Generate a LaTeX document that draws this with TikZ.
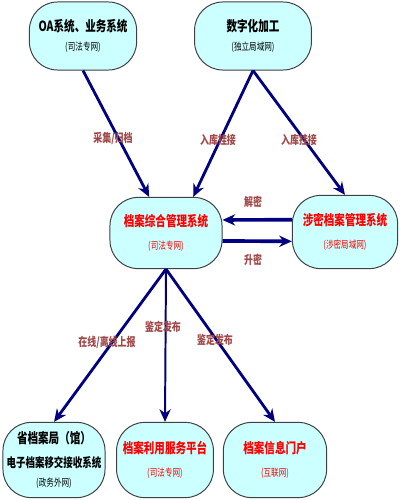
\documentclass[tikz,border=0pt]{standalone}
\usepackage{fontspec}
\usetikzlibrary{arrows.meta}
\newfontfamily\cjk[FakeStretch=0.75]{Noto Sans CJK SC}
\definecolor{boxfill}{HTML}{CCFFFF}
\definecolor{boxline}{HTML}{404040}
\definecolor{flowblue}{HTML}{000080}
\definecolor{lblred}{HTML}{A04848}
\newcommand\netname[1]{{\fontsize{7.2}{9}\selectfont\mdseries(#1)}}

\begin{document}
\begin{tikzpicture}[x=0.025cm, y=-0.025cm,
  every node/.style={font=\cjk},
  box/.style={draw=boxline, line width=0.7pt, fill=boxfill, rounded corners=20pt,
    inner sep=0pt, align=center, minimum width=2.7cm, minimum height=1.75cm,
    font=\cjk\fontsize{10}{13}\selectfont\bfseries},
  hot/.style={box, text=red},
  flow/.style={draw=flowblue, line width=2pt, -{Stealth[length=9pt,width=8pt]}},
  lbl/.style={text=lblred, font=\cjk\fontsize{8.5}{10}\selectfont\bfseries}]
  \useasboundingbox (0,0) rectangle (400,500);

  % top row
  \node[box, minimum width=2.68cm, minimum height=1.7cm] (oa) at (83,36)
    {OA系统、业务系统\\\netname{司法专网}};
  \node[box, minimum width=2.92cm, minimum height=1.7cm] (digit) at (253,36)
    {数字化加工\\\netname{独立局域网}};

  % middle row
  \node[hot, minimum width=2.8cm, minimum height=1.78cm] (core) at (166,233)
    {档案综合管理系统\\[3pt]\netname{司法专网}};
  \node[hot, minimum width=2.63cm, minimum height=1.83cm] (secret) at (345,232)
    {涉密档案管理系统\\[3pt]\netname{涉密局域网}};

  % bottom row
  \node[box, minimum width=2.55cm, minimum height=1.88cm] (prov) at (54,460)
    {省档案局（馆）\\[4pt]{\fontsize{9}{11}\selectfont 电子档案移交接收系统}\\[1pt]\netname{政务外网}};
  \node[hot, minimum width=2.42cm, minimum height=1.88cm] (use) at (165,460)
    {档案利用服务平台\\[3pt]\netname{司法专网}};
  \node[hot, minimum width=2.58cm, minimum height=1.88cm] (portal) at (275,460)
    {档案信息门户\\[3pt]\netname{互联网}};

  % connectors
  \draw[flow] (oa.south) -- (core.115);
  \draw[flow] (digit.south) -- (core.53);
  \draw[flow] (digit.south) -- (secret.north);
  \draw[flow, line width=2.6pt] (secret.167) -- (core.13);
  \draw[flow, line width=2.6pt] (core.-8) -- (secret.190);
  \draw[flow] (core.south) -- (prov.north);
  \draw[flow, line width=1.4pt] (core.south) -- (use.north);
  \draw[flow] (core.south) -- (portal.north);

  % labels
  \node[lbl] (l1) at (113,138) {采集/归档};
  \node[lbl] (l2) at (218,140) {入库挂接};
  \node[lbl] (l3) at (299,140) {入库挂接};
  \node[lbl] (l4) at (253,202) {解密};
  \node[lbl] (l5) at (253,260) {升密};
  \node[lbl] (l6) at (107,342) {在线/离线上报};
  \node[lbl] (l7) at (163,327) {鉴定发布};
  \node[lbl] (l8) at (215,340) {鉴定发布};
\end{tikzpicture}
\end{document}
